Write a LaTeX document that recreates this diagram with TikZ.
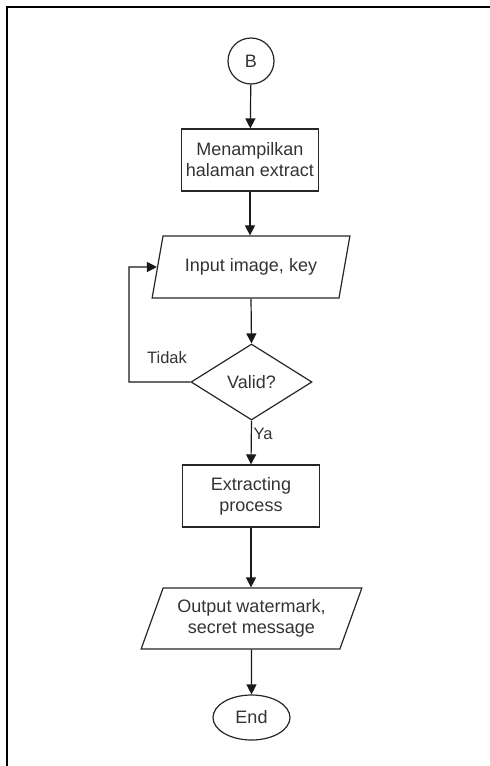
\documentclass[tikz,border=0pt]{standalone}
\usepackage{fontspec}
\setmainfont{Liberation Sans}
\usetikzlibrary{shapes.geometric,arrows.meta}
\begin{document}
\begin{tikzpicture}[x=1pt,y=-1pt,
  every node/.style={font=\fontsize{18}{21}\selectfont, text=black!80, align=center},
  shp/.style={draw=black!85, line width=1.2pt, inner sep=0pt},
  procbox/.style={shp, rectangle, minimum width=137pt, minimum height=62pt},
  iobox/.style={shp, trapezium, trapezium left angle=64, trapezium right angle=116, trapezium stretches=true},
  conn/.style={draw=black!90, line width=1.2pt, -{Triangle[length=10pt,width=10pt]}},
  lbl/.style={font=\fontsize{16.5}{19}\selectfont}
]
\useasboundingbox (0,0) rectangle (490,766);
\draw[line width=2pt] (6.5,766) -- (6.5,7) -- (490,7);

\node[shp, circle, minimum size=46pt] (b) at (251,61) {B};
\node[procbox] (box1) at (250,160) {Menampilkan\\halaman extract};
\node[iobox, minimum width=198pt, minimum height=62pt] (p1) at (251,267) {Input image, key};
\node[shp, diamond, minimum width=121pt, minimum height=76pt] (valid) at (251.5,382) {Valid?};
\node[procbox] (box2) at (251,496) {Extracting\\process};
\node[iobox, minimum width=221pt, minimum height=61pt] (p2) at (251.5,618.5) {Output watermark,\\secret message};
\node[shp, ellipse, minimum width=77pt, minimum height=45pt] (end) at (251.5,717.5) {End};

\coordinate (lc1) at (129,382);
\coordinate (lc2) at (129,267);

\draw[conn] (b) -- (box1);
\draw[conn] (box1.south) -- (box1.south |- p1.north);
\draw[conn] (p1.south) -- (valid.north);
\draw[conn] (valid.south) -- (box2.north);
\draw[conn] (box2.south) -- (box2.south |- p2.north);
\draw[conn] (p2.south) -- (end.north);
\draw[conn] (valid.west) -- (lc1) -- (lc2) -- (p1.west);

\node[lbl] (tidak) at (167,358) {Tidak};
\node[lbl] (ya) at (263,434) {Ya};
\end{tikzpicture}
\end{document}
